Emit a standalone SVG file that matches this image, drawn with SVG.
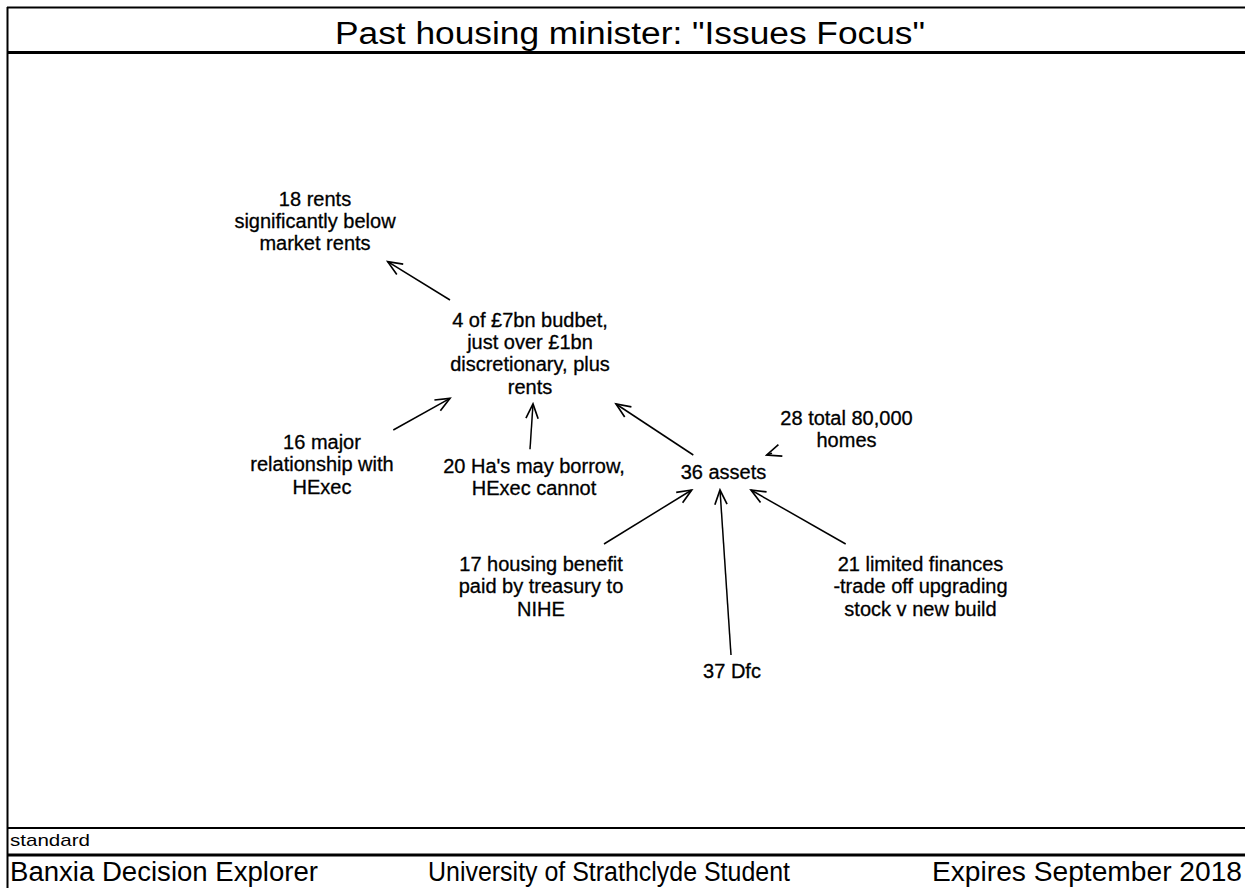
<svg xmlns="http://www.w3.org/2000/svg" width="1245" height="888" viewBox="0 0 1245 888">
<style>
.frame{stroke:#000;fill:none}
.n{font-family:"Liberation Sans",Arial,sans-serif;font-size:20px;fill:#000;text-anchor:middle;stroke:#000;stroke-width:0.3}
.c{stroke:#000;stroke-width:1.5;fill:none;marker-end:url(#ah)}
.hdr{font-family:"Liberation Sans",Arial,sans-serif;fill:#000}
</style>
<defs>
<marker id="ah" markerUnits="userSpaceOnUse" markerWidth="20" markerHeight="20" viewBox="-16 -8 18 16" refX="0" refY="0" orient="auto">
<path d="M -13 -5.5 L 0 0 L -13 5.5" fill="none" stroke="#000" stroke-width="1.5"/>
</marker>
</defs>
<rect x="0" y="0" width="1245" height="888" fill="#fff"/>
<g id="frame">
<line class="frame" x1="7" y1="7.5" x2="1245" y2="7.5" stroke-width="2"/>
<line class="frame" x1="7.5" y1="7" x2="7.5" y2="888" stroke-width="2"/>
<line class="frame" x1="7" y1="52.5" x2="1245" y2="52.5" stroke-width="3"/>
<line class="frame" x1="7" y1="828" x2="1245" y2="828" stroke-width="2"/>
<line class="frame" x1="7" y1="855" x2="1245" y2="855" stroke-width="3"/>
<text class="hdr" x="335" y="44" font-size="31" textLength="590" lengthAdjust="spacingAndGlyphs">Past housing minister: "Issues Focus"</text>
<text class="hdr" x="10" y="846" font-size="17" textLength="80" lengthAdjust="spacingAndGlyphs">standard</text>
<text class="hdr" x="10" y="881" font-size="27" textLength="308" lengthAdjust="spacingAndGlyphs">Banxia Decision Explorer</text>
<text class="hdr" x="428" y="881" font-size="27" textLength="362" lengthAdjust="spacingAndGlyphs">University of Strathclyde Student</text>
<text class="hdr" x="932" y="881" font-size="27" textLength="310" lengthAdjust="spacingAndGlyphs">Expires September 2018</text>
</g>
<g id="connectors">
<line class="c" x1="450" y1="300" x2="387.7" y2="261.7"/>
<line class="c" x1="393.3" y1="430" x2="450" y2="398.3"/>
<line class="c" x1="530" y1="449.3" x2="533" y2="404"/>
<line class="c" x1="693.3" y1="455" x2="616" y2="404"/>
<line class="c" x1="772" y1="453.2" x2="766.7" y2="455"/>
<line class="c" x1="604" y1="544" x2="691.7" y2="490"/>
<line class="c" x1="731" y1="655" x2="720" y2="490"/>
<line class="c" x1="845.7" y1="544" x2="751" y2="490"/>
</g>
<g id="node18">
<text class="n" x="315" y="206">18 rents</text>
<text class="n" x="315" y="228">significantly below</text>
<text class="n" x="315" y="250">market rents</text>
</g>
<g id="node4">
<text class="n" x="530" y="327">4 of £7bn budbet,</text>
<text class="n" x="530" y="349">just over £1bn</text>
<text class="n" x="530" y="371">discretionary, plus</text>
<text class="n" x="530" y="394">rents</text>
</g>
<g id="node16">
<text class="n" x="322" y="449">16 major</text>
<text class="n" x="322" y="471">relationship with</text>
<text class="n" x="322" y="494">HExec</text>
</g>
<g id="node20">
<text class="n" x="534" y="473">20 Ha's may borrow,</text>
<text class="n" x="534" y="495">HExec cannot</text>
</g>
<g id="node36">
<text class="n" x="723.5" y="479">36 assets</text>
</g>
<g id="node28">
<text class="n" x="846.5" y="425">28 total 80,000</text>
<text class="n" x="846.5" y="447">homes</text>
</g>
<g id="node17">
<text class="n" x="541" y="571">17 housing benefit</text>
<text class="n" x="541" y="593">paid by treasury to</text>
<text class="n" x="541" y="616">NIHE</text>
</g>
<g id="node21">
<text class="n" x="920.5" y="571">21 limited finances</text>
<text class="n" x="920.5" y="593">-trade off upgrading</text>
<text class="n" x="920.5" y="616">stock v new build</text>
</g>
<g id="node37">
<text class="n" x="732" y="678">37 Dfc</text>
</g>
</svg>
